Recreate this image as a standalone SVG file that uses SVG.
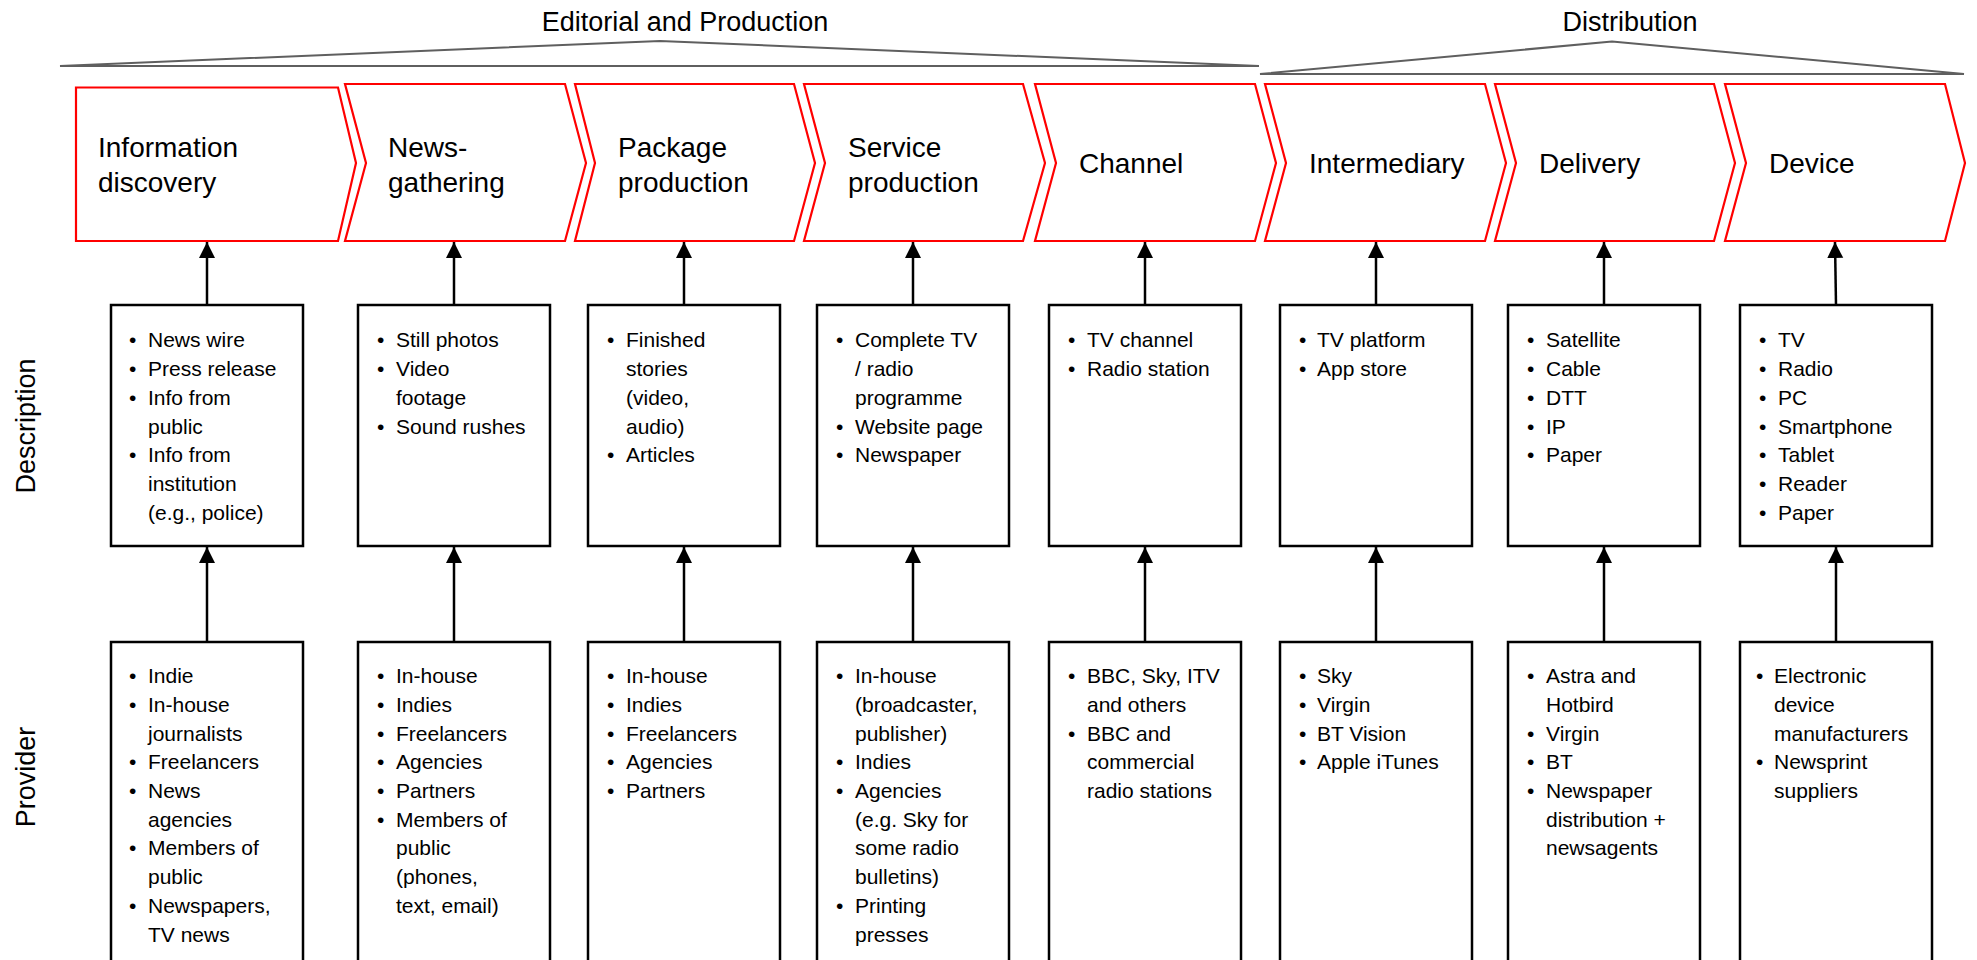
<svg xmlns="http://www.w3.org/2000/svg" width="1977" height="960" viewBox="0 0 1977 960">
  <style>
    .bg { fill: #ffffff; }
    .brace { fill: none; stroke: #5f5f5f; stroke-width: 2; stroke-linejoin: miter; }
    .head { font-family: "Liberation Sans", Arial, sans-serif; font-size: 27px; fill: #000; }
    .stage { fill: #ffffff; stroke: #ff0000; stroke-width: 2.2; stroke-linejoin: miter; }
    .stage-label { font-family: "Liberation Sans", Arial, sans-serif; font-size: 28px; fill: #000; }
    .box { fill: #ffffff; stroke: #000; stroke-width: 2.5; }
    .item { font-family: "Liberation Sans", Arial, sans-serif; font-size: 21px; fill: #000; }
    .row-label { font-family: "Liberation Sans", Arial, sans-serif; font-size: 27px; fill: #000; text-anchor: middle; }
    .link { fill: none; stroke: #000; stroke-width: 2.5; marker-end: url(#arrow); }
  </style>
  <defs>
    <marker id="arrow" markerUnits="userSpaceOnUse" markerWidth="17" markerHeight="17" viewBox="0 0 17 17" refX="16" refY="8" orient="auto">
      <path d="M0,0 L16,8 L0,16 Z" fill="#000"/>
    </marker>
  </defs>

  <rect class="bg" x="0" y="0" width="1977" height="960"/>

  <!-- Phase headers with bracket triangles -->
  <g id="phase-editorial">
    <text class="head" x="685" y="31" text-anchor="middle">Editorial and Production</text>
    <path class="brace" d="M60,66 L660,41 L1259,66 Z"/>
  </g>
  <g id="phase-distribution">
    <text class="head" x="1630" y="31" text-anchor="middle">Distribution</text>
    <path class="brace" d="M1260,74 L1612,41.5 L1964,74 Z"/>
  </g>

  <!-- Row labels -->
  <text class="row-label" transform="translate(35,426) rotate(-90)">Description</text>
  <text class="row-label" transform="translate(35,777) rotate(-90)">Provider</text>

  <!-- Connectors -->
  <g id="connectors">
    <path class="link" d="M207,305 V242"/>
    <path class="link" d="M454,305 V242"/>
    <path class="link" d="M684,305 V242"/>
    <path class="link" d="M913,305 V242"/>
    <path class="link" d="M1145,305 V242"/>
    <path class="link" d="M1376,305 V242"/>
    <path class="link" d="M1604,305 V242"/>
    <path class="link" d="M1836,305 L1835,242"/>

    <path class="link" d="M207,642 V547"/>
    <path class="link" d="M454,642 V547"/>
    <path class="link" d="M684,642 V547"/>
    <path class="link" d="M913,642 V547"/>
    <path class="link" d="M1145,642 V547"/>
    <path class="link" d="M1376,642 V547"/>
    <path class="link" d="M1604,642 V547"/>
    <path class="link" d="M1836,642 V547"/>
  </g>

  <!-- Value chain stages -->
  <g id="stage-information-discovery">
    <path class="stage" d="M76,87.5 H338 L356,163 L338,241 H76 Z"/>
    <text class="stage-label"><tspan x="98" y="157">Information</tspan><tspan x="98" y="192">discovery</tspan></text>
  </g>
  <g id="stage-news-gathering">
    <path class="stage" d="M345,84 H565 L586,163 L565,241 H345 L366,163 Z"/>
    <text class="stage-label"><tspan x="388" y="157">News-</tspan><tspan x="388" y="192">gathering</tspan></text>
  </g>
  <g id="stage-package-production">
    <path class="stage" d="M575,84 H794 L815,163 L794,241 H575 L595,163 Z"/>
    <text class="stage-label"><tspan x="618" y="157">Package</tspan><tspan x="618" y="192">production</tspan></text>
  </g>
  <g id="stage-service-production">
    <path class="stage" d="M804,84 H1023 L1045,163 L1023,241 H804 L825,163 Z"/>
    <text class="stage-label"><tspan x="848" y="157">Service</tspan><tspan x="848" y="192">production</tspan></text>
  </g>
  <g id="stage-channel">
    <path class="stage" d="M1035,84 H1255 L1276,163 L1255,241 H1035 L1056,163 Z"/>
    <text class="stage-label" x="1079" y="173">Channel</text>
  </g>
  <g id="stage-intermediary">
    <path class="stage" d="M1265,84 H1485 L1506,163 L1485,241 H1265 L1286,163 Z"/>
    <text class="stage-label" x="1309" y="173">Intermediary</text>
  </g>
  <g id="stage-delivery">
    <path class="stage" d="M1495,84 H1714 L1735,163 L1714,241 H1495 L1516,163 Z"/>
    <text class="stage-label" x="1539" y="173">Delivery</text>
  </g>
  <g id="stage-device">
    <path class="stage" d="M1725,84 H1945 L1965,163 L1945,241 H1725 L1746,163 Z"/>
    <text class="stage-label" x="1769" y="173">Device</text>
  </g>

  <!-- Description boxes -->
  <g id="desc-information-discovery">
    <rect class="box" x="111" y="305" width="192" height="241"/>
    <text class="item"><tspan x="129" y="347">•</tspan><tspan x="129" y="376">•</tspan><tspan x="129" y="405">•</tspan><tspan x="129" y="462">•</tspan></text>
    <text class="item"><tspan x="148" y="347">News wire</tspan><tspan x="148" y="376">Press release</tspan><tspan x="148" y="405">Info from</tspan><tspan x="148" y="434">public</tspan><tspan x="148" y="462">Info from</tspan><tspan x="148" y="491">institution</tspan><tspan x="148" y="520">(e.g., police)</tspan></text>
  </g>
  <g id="desc-news-gathering">
    <rect class="box" x="358" y="305" width="192" height="241"/>
    <text class="item"><tspan x="377" y="347">•</tspan><tspan x="377" y="376">•</tspan><tspan x="377" y="434">•</tspan></text>
    <text class="item"><tspan x="396" y="347">Still photos</tspan><tspan x="396" y="376">Video</tspan><tspan x="396" y="405">footage</tspan><tspan x="396" y="434">Sound rushes</tspan></text>
  </g>
  <g id="desc-package-production">
    <rect class="box" x="588" y="305" width="192" height="241"/>
    <text class="item"><tspan x="607" y="347">•</tspan><tspan x="607" y="462">•</tspan></text>
    <text class="item"><tspan x="626" y="347">Finished</tspan><tspan x="626" y="376">stories</tspan><tspan x="626" y="405">(video,</tspan><tspan x="626" y="434">audio)</tspan><tspan x="626" y="462">Articles</tspan></text>
  </g>
  <g id="desc-service-production">
    <rect class="box" x="817" y="305" width="192" height="241"/>
    <text class="item"><tspan x="836" y="347">•</tspan><tspan x="836" y="434">•</tspan><tspan x="836" y="462">•</tspan></text>
    <text class="item"><tspan x="855" y="347">Complete TV</tspan><tspan x="855" y="376">/ radio</tspan><tspan x="855" y="405">programme</tspan><tspan x="855" y="434">Website page</tspan><tspan x="855" y="462">Newspaper</tspan></text>
  </g>
  <g id="desc-channel">
    <rect class="box" x="1049" y="305" width="192" height="241"/>
    <text class="item"><tspan x="1068" y="347">•</tspan><tspan x="1068" y="376">•</tspan></text>
    <text class="item"><tspan x="1087" y="347">TV channel</tspan><tspan x="1087" y="376">Radio station</tspan></text>
  </g>
  <g id="desc-intermediary">
    <rect class="box" x="1280" y="305" width="192" height="241"/>
    <text class="item"><tspan x="1299" y="347">•</tspan><tspan x="1299" y="376">•</tspan></text>
    <text class="item"><tspan x="1317" y="347">TV platform</tspan><tspan x="1317" y="376">App store</tspan></text>
  </g>
  <g id="desc-delivery">
    <rect class="box" x="1508" y="305" width="192" height="241"/>
    <text class="item"><tspan x="1527" y="347">•</tspan><tspan x="1527" y="376">•</tspan><tspan x="1527" y="405">•</tspan><tspan x="1527" y="434">•</tspan><tspan x="1527" y="462">•</tspan></text>
    <text class="item"><tspan x="1546" y="347">Satellite</tspan><tspan x="1546" y="376">Cable</tspan><tspan x="1546" y="405">DTT</tspan><tspan x="1546" y="434">IP</tspan><tspan x="1546" y="462">Paper</tspan></text>
  </g>
  <g id="desc-device">
    <rect class="box" x="1740" y="305" width="192" height="241"/>
    <text class="item"><tspan x="1759" y="347">•</tspan><tspan x="1759" y="376">•</tspan><tspan x="1759" y="405">•</tspan><tspan x="1759" y="434">•</tspan><tspan x="1759" y="462">•</tspan><tspan x="1759" y="491">•</tspan><tspan x="1759" y="520">•</tspan></text>
    <text class="item"><tspan x="1778" y="347">TV</tspan><tspan x="1778" y="376">Radio</tspan><tspan x="1778" y="405">PC</tspan><tspan x="1778" y="434">Smartphone</tspan><tspan x="1778" y="462">Tablet</tspan><tspan x="1778" y="491">Reader</tspan><tspan x="1778" y="520">Paper</tspan></text>
  </g>

  <!-- Provider boxes (run past the lower edge) -->
  <g id="prov-information-discovery">
    <rect class="box" x="111" y="642" width="192" height="340"/>
    <text class="item"><tspan x="129" y="683">•</tspan><tspan x="129" y="712">•</tspan><tspan x="129" y="769">•</tspan><tspan x="129" y="798">•</tspan><tspan x="129" y="855">•</tspan><tspan x="129" y="913">•</tspan></text>
    <text class="item"><tspan x="148" y="683">Indie</tspan><tspan x="148" y="712">In-house</tspan><tspan x="148" y="741">journalists</tspan><tspan x="148" y="769">Freelancers</tspan><tspan x="148" y="798">News</tspan><tspan x="148" y="827">agencies</tspan><tspan x="148" y="855">Members of</tspan><tspan x="148" y="884">public</tspan><tspan x="148" y="913">Newspapers,</tspan><tspan x="148" y="942">TV news</tspan></text>
  </g>
  <g id="prov-news-gathering">
    <rect class="box" x="358" y="642" width="192" height="340"/>
    <text class="item"><tspan x="377" y="683">•</tspan><tspan x="377" y="712">•</tspan><tspan x="377" y="741">•</tspan><tspan x="377" y="769">•</tspan><tspan x="377" y="798">•</tspan><tspan x="377" y="827">•</tspan></text>
    <text class="item"><tspan x="396" y="683">In-house</tspan><tspan x="396" y="712">Indies</tspan><tspan x="396" y="741">Freelancers</tspan><tspan x="396" y="769">Agencies</tspan><tspan x="396" y="798">Partners</tspan><tspan x="396" y="827">Members of</tspan><tspan x="396" y="855">public</tspan><tspan x="396" y="884">(phones,</tspan><tspan x="396" y="913">text, email)</tspan></text>
  </g>
  <g id="prov-package-production">
    <rect class="box" x="588" y="642" width="192" height="340"/>
    <text class="item"><tspan x="607" y="683">•</tspan><tspan x="607" y="712">•</tspan><tspan x="607" y="741">•</tspan><tspan x="607" y="769">•</tspan><tspan x="607" y="798">•</tspan></text>
    <text class="item"><tspan x="626" y="683">In-house</tspan><tspan x="626" y="712">Indies</tspan><tspan x="626" y="741">Freelancers</tspan><tspan x="626" y="769">Agencies</tspan><tspan x="626" y="798">Partners</tspan></text>
  </g>
  <g id="prov-service-production">
    <rect class="box" x="817" y="642" width="192" height="340"/>
    <text class="item"><tspan x="836" y="683">•</tspan><tspan x="836" y="769">•</tspan><tspan x="836" y="798">•</tspan><tspan x="836" y="913">•</tspan></text>
    <text class="item"><tspan x="855" y="683">In-house</tspan><tspan x="855" y="712">(broadcaster,</tspan><tspan x="855" y="741">publisher)</tspan><tspan x="855" y="769">Indies</tspan><tspan x="855" y="798">Agencies</tspan><tspan x="855" y="827">(e.g. Sky for</tspan><tspan x="855" y="855">some radio</tspan><tspan x="855" y="884">bulletins)</tspan><tspan x="855" y="913">Printing</tspan><tspan x="855" y="942">presses</tspan></text>
  </g>
  <g id="prov-channel">
    <rect class="box" x="1049" y="642" width="192" height="340"/>
    <text class="item"><tspan x="1068" y="683">•</tspan><tspan x="1068" y="741">•</tspan></text>
    <text class="item"><tspan x="1087" y="683">BBC, Sky, ITV</tspan><tspan x="1087" y="712">and others</tspan><tspan x="1087" y="741">BBC and</tspan><tspan x="1087" y="769">commercial</tspan><tspan x="1087" y="798">radio stations</tspan></text>
  </g>
  <g id="prov-intermediary">
    <rect class="box" x="1280" y="642" width="192" height="340"/>
    <text class="item"><tspan x="1299" y="683">•</tspan><tspan x="1299" y="712">•</tspan><tspan x="1299" y="741">•</tspan><tspan x="1299" y="769">•</tspan></text>
    <text class="item"><tspan x="1317" y="683">Sky</tspan><tspan x="1317" y="712">Virgin</tspan><tspan x="1317" y="741">BT Vision</tspan><tspan x="1317" y="769">Apple iTunes</tspan></text>
  </g>
  <g id="prov-delivery">
    <rect class="box" x="1508" y="642" width="192" height="340"/>
    <text class="item"><tspan x="1527" y="683">•</tspan><tspan x="1527" y="741">•</tspan><tspan x="1527" y="769">•</tspan><tspan x="1527" y="798">•</tspan></text>
    <text class="item"><tspan x="1546" y="683">Astra and</tspan><tspan x="1546" y="712">Hotbird</tspan><tspan x="1546" y="741">Virgin</tspan><tspan x="1546" y="769">BT</tspan><tspan x="1546" y="798">Newspaper</tspan><tspan x="1546" y="827">distribution +</tspan><tspan x="1546" y="855">newsagents</tspan></text>
  </g>
  <g id="prov-device">
    <rect class="box" x="1740" y="642" width="192" height="340"/>
    <text class="item"><tspan x="1756" y="683">•</tspan><tspan x="1756" y="769">•</tspan></text>
    <text class="item"><tspan x="1774" y="683">Electronic</tspan><tspan x="1774" y="712">device</tspan><tspan x="1774" y="741">manufacturers</tspan><tspan x="1774" y="769">Newsprint</tspan><tspan x="1774" y="798">suppliers</tspan></text>
  </g>
</svg>
